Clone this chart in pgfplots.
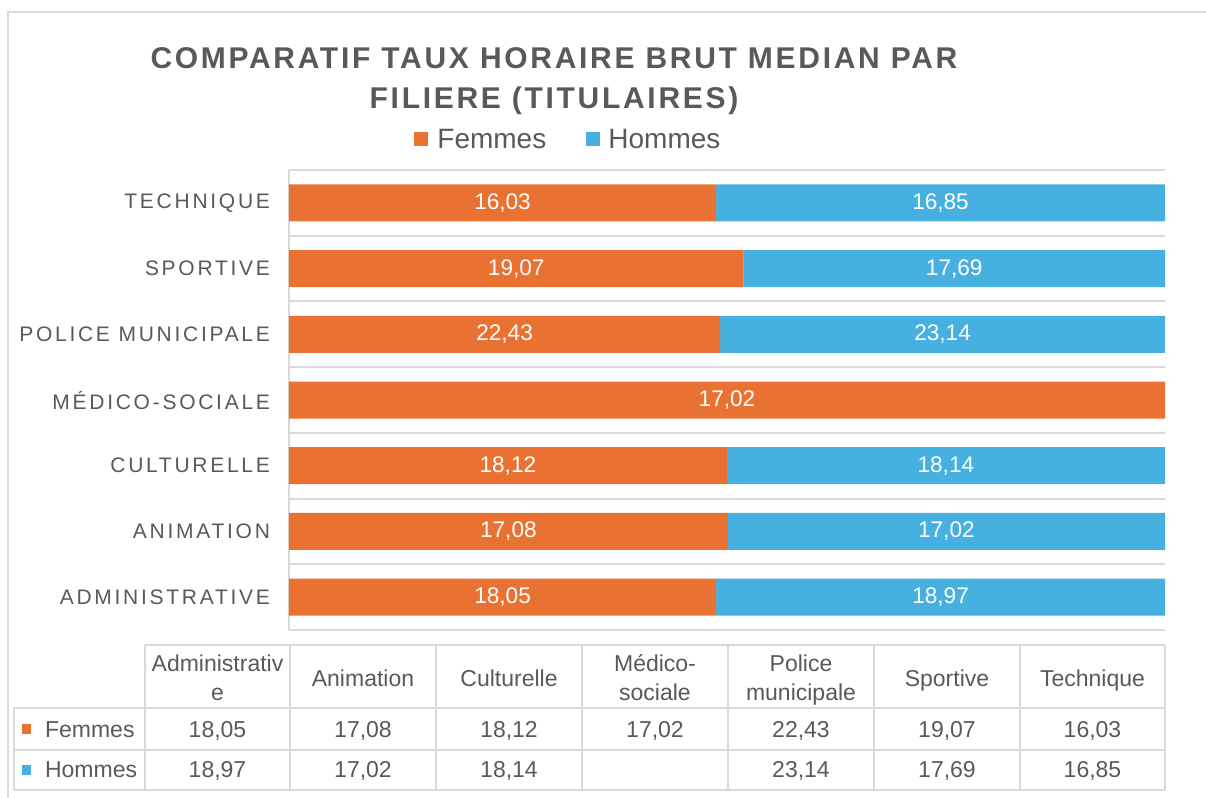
\documentclass[border=0pt]{standalone}
\usepackage{fontspec}
\setmainfont{Liberation Sans}
\newfontfamily\catfont[LetterSpace=13]{Liberation Sans}
\newfontfamily\titlefont[LetterSpace=9]{Liberation Sans}
\usepackage{pgfplots}
\usepackage{pgfplotstable}
\pgfplotsset{compat=1.18}
\definecolor{femmes}{HTML}{E97132}
\definecolor{hommes}{HTML}{46B1E1}
\definecolor{txt}{HTML}{595959}
\definecolor{gridc}{HTML}{D9D9D9}

\pgfplotstableread{
y F H Flab Hlab
0 18.05 18.97 18,05 18,97
1 17.08 17.02 17,08 17,02
2 18.12 18.14 18,12 18,14
3 17.02 0 17,02 {}
4 22.43 23.14 22,43 23,14
5 19.07 17.69 19,07 17,69
6 16.03 16.85 16,03 16,85
}\data

\begin{document}
\begin{tikzpicture}[x=0.5pt,y=-0.5pt]
\path[use as bounding box] (0,0) rectangle (1206,798);
\draw[gridc, line width=1pt] (8,798) -- (8,12) -- (1206,12);
\node[anchor=base, text=txt, font=\fontsize{15}{18}\titlefont\bfseries] at (554,68) {COMPARATIF TAUX HORAIRE BRUT MEDIAN PAR};
\node[anchor=base, text=txt, font=\fontsize{15}{18}\titlefont\bfseries] at (554,108) {FILIERE (TITULAIRES)};

% legend
\fill[femmes] (414,132) rectangle (428,146);
\node[anchor=base west, inner sep=0pt, text=txt, font=\fontsize{14}{16}\selectfont] at (437,148) {Femmes};
\fill[hommes] (586,132) rectangle (600,146);
\node[anchor=base west, inner sep=0pt, text=txt, font=\fontsize{14}{16}\selectfont] at (608,148) {Hommes};

\begin{axis}[
  at={(144.5pt,-315pt)}, anchor=south west,
  scale only axis, width=438pt, height=230pt,
  xbar stacked, bar width=18.5pt,
  xmin=0, xmax=100, ymin=-0.5, ymax=6.5,
  axis line style={draw=none},
  tick style={draw=none},
  xtick={0}, xticklabels={}, xmajorgrids,
  major grid style={draw=gridc, line width=1pt},
  ytick={0,...,6},
  yticklabels={ADMINISTRATIVE,ANIMATION,CULTURELLE,MÉDICO-SOCIALE,POLICE MUNICIPALE,SPORTIVE,TECHNIQUE},
  yticklabel style={font=\fontsize{10.5}{12}\catfont, text=txt, xshift=-6pt},
  minor ytick={-0.5,0.5,...,6.5},
  yminorgrids,
  minor grid style={draw=gridc, line width=1pt},
  nodes near coords,
  point meta=explicit symbolic,
  every node near coord/.append style={font=\fontsize{11.3}{13}\selectfont, text=white, anchor=center},
]
\addplot[fill=femmes, draw=none]
  table[y=y, x expr={\thisrow{F}/(\thisrow{F}+\thisrow{H})*100}, meta=Flab] {\data};
\addplot[fill=hommes, draw=none]
  table[y=y, x expr={\thisrow{H}/(\thisrow{F}+\thisrow{H})*100}, meta=Hlab] {\data};
\end{axis}

% data table
\draw[gridc, line width=1pt] (145,645) -- (1165,645);
\foreach \xx in {145,290,436,582,728,874,1020,1165} \draw[gridc, line width=1pt] (\xx,645) -- (\xx,790);
\foreach \yy in {708,750,790} \draw[gridc, line width=1pt] (14,\yy) -- (1165,\yy);
\draw[gridc, line width=1pt] (14,708) -- (14,790);

\begin{scope}[every node/.style={text=txt, font=\fontsize{11.5}{14}\selectfont, anchor=base}]
\node at (217.5,671) {Administrativ};
\node at (217.5,700) {e};
\node at (363,686) {Animation};
\node at (509,686) {Culturelle};
\node at (655,671) {Médico-};
\node at (655,700) {sociale};
\node at (801,671) {Police};
\node at (801,700) {municipale};
\node at (947,686) {Sportive};
\node at (1092.5,686) {Technique};
\node[anchor=base west] at (38,737) {Femmes};
\node[anchor=base west] at (38,777) {Hommes};
\foreach \xx/\v in {217.5/{18,05},363/{17,08},509/{18,12},655/{17,02},801/{22,43},947/{19,07},1092.5/{16,03}} \node at (\xx,737) {\v};
\foreach \xx/\v in {217.5/{18,97},363/{17,02},509/{18,14},801/{23,14},947/{17,69},1092.5/{16,85}} \node at (\xx,777) {\v};
\end{scope}
\fill[femmes] (22,724) rectangle (31,734);
\fill[hommes] (22,765) rectangle (31,775);
\end{tikzpicture}
\end{document}
